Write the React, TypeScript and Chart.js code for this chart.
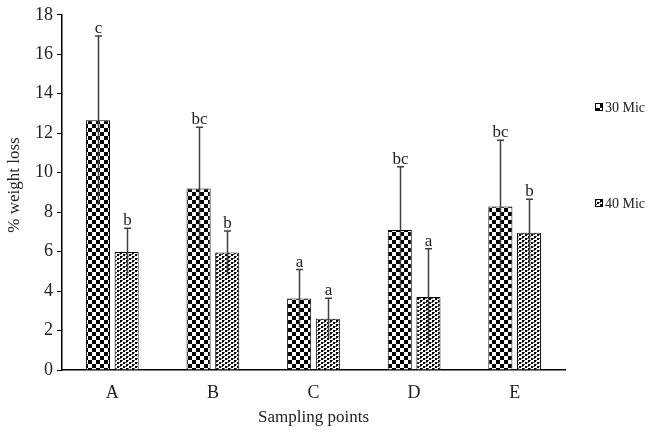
import React, { useEffect, useRef } from "react";
import { Chart, registerables } from "chart.js";

Chart.register(...registerables);

const categories = ["A", "B", "C", "D", "E"];
const series30Label = "30 Mic";
const series40Label = "40 Mic";
const values30 = [12.65, 9.2, 3.62, 7.1, 8.29];
const values40 = [5.98, 5.95, 2.6, 3.7, 6.95];
const errors30 = [4.28, 3.1, 1.47, 3.2, 3.35];
const errors40 = [1.2, 1.1, 1.03, 2.45, 1.7];
const letters30 = ["c", "bc", "a", "bc", "bc"];
const letters40 = ["b", "b", "a", "a", "b"];
const yTicks = [0, 2, 4, 6, 8, 10, 12, 14, 16, 18];
const yTitle = "% weight loss";
const xTitle = "Sampling points";

const SERIF = "'Liberation Serif', 'Times New Roman', serif";

function makeChecker(): CanvasPattern | string {
  const c = document.createElement("canvas");
  c.width = 8;
  c.height = 8;
  const g = c.getContext("2d");
  if (!g) return "#000";
  g.fillStyle = "#fff";
  g.fillRect(0, 0, 8, 8);
  g.fillStyle = "#000";
  g.fillRect(0, 0, 4, 4);
  g.fillRect(4, 4, 4, 4);
  return g.createPattern(c, "repeat") || "#000";
}

function makeDots(): CanvasPattern | string {
  const c = document.createElement("canvas");
  c.width = 6;
  c.height = 4;
  const g = c.getContext("2d");
  if (!g) return "#555";
  g.fillStyle = "#fff";
  g.fillRect(0, 0, 6, 4);
  g.fillStyle = "#000";
  g.fillRect(0, 0, 2, 2);
  g.fillRect(3, 2, 2, 2);
  g.fillStyle = "#666";
  g.fillRect(2, 0, 1, 1);
  g.fillRect(5, 2, 1, 1);
  g.fillRect(0, 2, 1, 1);
  return g.createPattern(c, "repeat") || "#555";
}

export default function App() {
  const ref = useRef<HTMLCanvasElement | null>(null);

  useEffect(() => {
    const canvas = ref.current;
    if (!canvas) return;
    const checker = makeChecker();
    const dots = makeDots();

    const errorPlugin = {
      id: "errorBarsLetters",
      afterDatasetsDraw(chart: any) {
        const ctx = chart.ctx;
        const yScale = chart.scales.y;
        const errs = [errors30, errors40];
        const lets = [letters30, letters40];
        const vals = [values30, values40];
        ctx.save();
        for (let d = 0; d < 2; d++) {
          const meta = chart.getDatasetMeta(d);
          meta.data.forEach((bar: any, i: number) => {
            const x = Math.round(bar.x) + 0.5;
            const yTop = yScale.getPixelForValue(vals[d][i] + errs[d][i]);
            const yBot = yScale.getPixelForValue(vals[d][i] - errs[d][i]);
            ctx.strokeStyle = "#404040";
            ctx.lineWidth = 1.5;
            ctx.beginPath();
            ctx.moveTo(x, yTop);
            ctx.lineTo(x, yBot);
            ctx.moveTo(x - 3.5, yTop);
            ctx.lineTo(x + 3.5, yTop);
            ctx.stroke();
            ctx.fillStyle = "#222";
            ctx.font = `17px ${SERIF}`;
            ctx.textAlign = "center";
            ctx.textBaseline = "bottom";
            ctx.fillText(lets[d][i], x, yTop + 1);
          });
        }
        // y-axis title
        ctx.save();
        ctx.translate(15, 185);
        ctx.rotate(-Math.PI / 2);
        ctx.font = `17px ${SERIF}`;
        ctx.fillStyle = "#222";
        ctx.textAlign = "center";
        ctx.textBaseline = "middle";
        ctx.fillText(yTitle, 0, 0);
        ctx.restore();
        // legend
        const items = [
          { label: series30Label, fill: checker, y: 107 },
          { label: series40Label, fill: dots, y: 203 },
        ];
        items.forEach((it) => {
          ctx.fillStyle = it.fill;
          ctx.fillRect(595, it.y - 4, 8, 8);
          ctx.strokeStyle = "#000";
          ctx.lineWidth = 1;
          ctx.strokeRect(595.5, it.y - 3.5, 7, 7);
          ctx.fillStyle = "#222";
          ctx.font = `14px ${SERIF}`;
          ctx.textAlign = "left";
          ctx.textBaseline = "middle";
          ctx.fillText(it.label, 605, it.y + 1);
        });
        ctx.restore();
      },
    };

    const chart = new Chart(canvas, {
      type: "bar",
      data: {
        labels: categories,
        datasets: [
          {
            label: series30Label,
            data: values30,
            backgroundColor: checker as any,
            borderColor: "#000",
            borderWidth: 1,
            barPercentage: 0.84,
            categoryPercentage: 0.57,
          },
          {
            label: series40Label,
            data: values40,
            backgroundColor: dots as any,
            borderColor: "#000",
            borderWidth: 1,
            barPercentage: 0.84,
            categoryPercentage: 0.57,
          },
        ],
      },
      options: {
        responsive: false,
        animation: false,
        layout: { padding: { left: 0, right: 85, top: 12, bottom: 0 } },
        plugins: {
          legend: { display: false },
          tooltip: { enabled: false },
        },
        scales: {
          x: {
            grid: { display: false, drawTicks: false },
            border: { display: true, color: "#000", width: 1.5 },
            ticks: {
              color: "#222",
              font: { family: SERIF, size: 18 },
              padding: 12,
            },
            title: {
              display: true,
              text: xTitle,
              color: "#222",
              font: { family: SERIF, size: 17 },
              padding: { top: 6, bottom: 6 },
            },
            afterFit(scale: any) {
              scale.height = 64;
            },
          },
          y: {
            min: 0,
            max: 18,
            afterBuildTicks(scale: any) {
              scale.ticks = yTicks.map((v) => ({ value: v }));
            },
            grid: {
              display: true,
              drawOnChartArea: false,
              drawTicks: true,
              tickLength: 5,
              color: "#000",
            },
            border: { display: true, color: "#000", width: 1.5 },
            ticks: {
              color: "#222",
              font: { family: SERIF, size: 18 },
              padding: 4,
            },
            afterFit(scale: any) {
              scale.width = 62;
            },
          },
        },
      },
      plugins: [errorPlugin],
    });
    return () => chart.destroy();
  }, []);

  return (
    <div style={{ position: "fixed", left: 0, top: 0, width: 650, height: 434, background: "#fff" }}>
      <canvas ref={ref} width={650} height={434} style={{ width: 650, height: 434 }} />
    </div>
  );
}
